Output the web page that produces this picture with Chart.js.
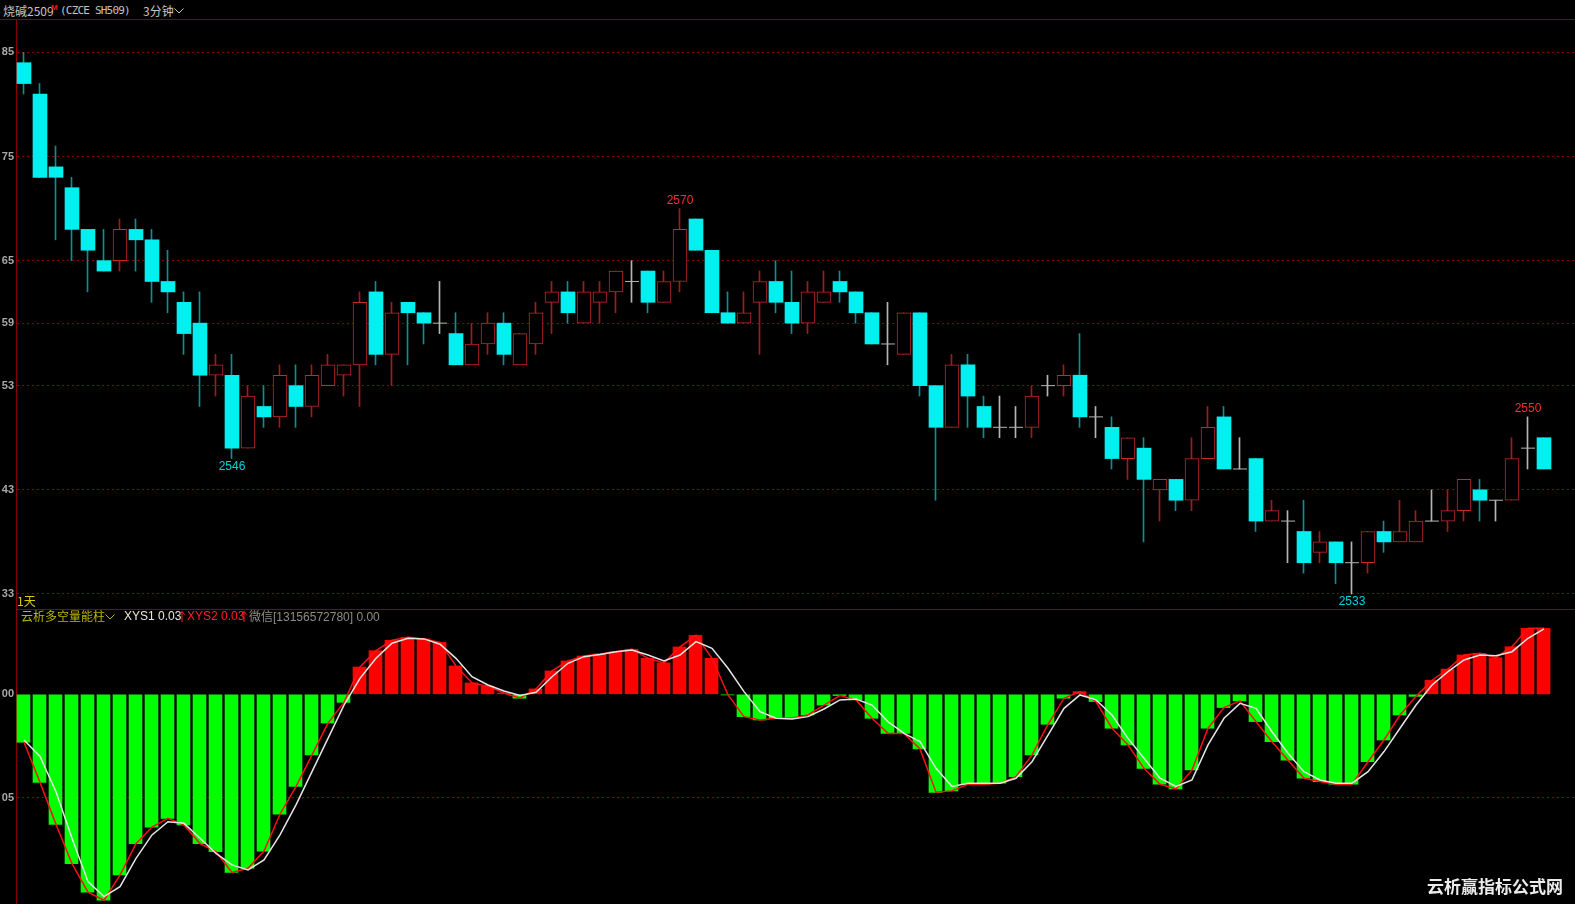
<!DOCTYPE html>
<html>
<head>
<meta charset="utf-8">
<script src="https://cdn.jsdelivr.net/npm/chart.js@4.4.1/dist/chart.umd.min.js"></script>
<style>
  html, body { margin: 0; padding: 0; background: #000; }
  body { width: 1575px; height: 904px; position: relative; overflow: hidden;
         font-family: "Liberation Sans", "Noto Sans CJK SC", sans-serif; }
  .abs { position: absolute; white-space: nowrap; line-height: 16px; font-size: 12px; }
  .cjk { font-family: "Noto Sans CJK SC", sans-serif; }
  #topline { position: absolute; left: 0; top: 19px; width: 1575px; height: 1px; background: #8c0000; }
  #sepline { position: absolute; left: 16px; top: 609px; width: 1559px; height: 1px; background: #8c0000; }
  #main { position: absolute; left: 0; top: 20px; }
  #sub { position: absolute; left: 0; top: 610px; }
  svg { display: inline-block; }
</style>
</head>
<body>
<div id="topline"></div>
<div id="sepline"></div>
<canvas id="main" width="1575" height="589"></canvas>
<canvas id="sub" width="1575" height="294"></canvas>

<div class="abs cjk" style="left:3px;top:3px;color:#c4c4c4;">烧碱2509</div>
<div class="abs" style="left:51px;top:0px;color:#e02020;font-size:8px;font-weight:bold;">M</div>
<div class="abs" style="left:60px;top:3px;color:#c4c4c4;font-family:'DejaVu Sans Mono';font-size:11px;letter-spacing:-0.8px;">(CZCE SH509)</div>
<div class="abs cjk" style="left:143px;top:3px;color:#c4c4c4;">3分钟</div>
<svg class="abs" style="left:174px;top:8px;" width="10" height="6"><polyline points="0.5,0.5 5,5 9.5,0.5" fill="none" stroke="#c4c4c4" stroke-width="1"/></svg>

<div class="abs cjk" style="left:17px;top:593px;color:#d8cc00;">1天</div>

<div class="abs cjk" style="left:21px;top:608px;color:#bcb400;">云析多空量能柱</div>
<svg class="abs" style="left:105px;top:614px;" width="10" height="6"><polyline points="0.5,0.5 5,5 9.5,0.5" fill="none" stroke="#bcb400" stroke-width="1"/></svg>
<div class="abs" style="left:124px;top:608px;color:#e8e8e8;">XYS1 0.03</div>
<svg class="abs" style="left:179px;top:610px;" width="6" height="12"><line x1="3" y1="1.5" x2="3" y2="12" stroke="#ff2020" stroke-width="1"/><polyline points="0.5,4.5 3,1.5 5.5,4.5" fill="none" stroke="#ff2020" stroke-width="1"/></svg>
<div class="abs" style="left:187px;top:608px;color:#ff2020;">XYS2 0.03</div>
<svg class="abs" style="left:241px;top:610px;" width="6" height="12"><line x1="3" y1="1.5" x2="3" y2="12" stroke="#ff2020" stroke-width="1"/><polyline points="0.5,4.5 3,1.5 5.5,4.5" fill="none" stroke="#ff2020" stroke-width="1"/></svg>
<div class="abs" style="left:249px;top:608px;color:#8c8c8c;"><span class="cjk">微信</span>[13156572780] 0.00</div>

<div class="abs cjk" style="left:1427px;top:875px;color:#ececec;font-size:17px;line-height:22px;font-weight:bold;">云析赢指标公式网</div>

<script>
// 价格刻度（轴上只显示末两位）
const priceTicks = [2585, 2575, 2565, 2559, 2553, 2543, 2533];
const subTicks = [0, -0.05];

// 3分钟K线
const opens  = [2584,2581,2574,2572,2568,2565,2565,2568,2567,2563,2561,2559,2554,2554,2547,2551,2550,2553,2551,2553,
                2554,2555,2562,2556,2561,2560,2559,2558,2555,2557,2559,2555,2557,2561,2562,2559,2561,2562,2563,2564,
                2561,2563,2569,2566,2560,2559,2561,2563,2561,2559,2561,2563,2562,2560,2557,2556,2560,2553,2549,2555,
                2551,2549,2549,2549,2553,2553,2554,2550,2549,2546,2547,2543,2544,2542,2546,2550,2545,2546,2540,2540,
                2539,2537,2538,2536,2536,2539,2538,2538,2540,2540,2541,2543,2542,2542,2547,2548];
const highs  = [2585,2582,2576,2573,2568,2568,2569,2569,2568,2566,2562,2562,2556,2556,2553,2553,2555,2555,2555,2556,
                2555,2562,2563,2561,2561,2560,2563,2560,2559,2560,2560,2558,2561,2563,2563,2563,2563,2564,2565,2564,
                2564,2570,2569,2566,2562,2562,2564,2565,2564,2563,2564,2564,2562,2560,2561,2560,2560,2553,2556,2556,
                2552,2552,2551,2553,2554,2555,2558,2551,2550,2548,2548,2544,2544,2548,2551,2551,2548,2546,2542,2541,
                2542,2539,2538,2538,2539,2540,2542,2541,2543,2543,2544,2544,2542,2548,2550,2548];
const lows   = [2581,2573,2567,2565,2562,2564,2564,2564,2561,2560,2556,2551,2552,2546,2547,2549,2549,2549,2550,2553,
                2552,2551,2555,2553,2555,2557,2558,2555,2555,2556,2555,2555,2556,2558,2559,2559,2559,2560,2561,2560,
                2561,2562,2566,2560,2559,2559,2556,2560,2558,2558,2561,2561,2559,2557,2555,2556,2552,2542,2549,2549,
                2548,2548,2548,2548,2552,2552,2549,2548,2545,2544,2538,2540,2541,2541,2546,2545,2545,2539,2540,2536,
                2535,2536,2534,2533,2535,2537,2538,2538,2540,2539,2540,2540,2540,2542,2545,2545];
const closes = [2582,2573,2573,2568,2566,2564,2568,2567,2563,2562,2558,2554,2555,2547,2552,2550,2554,2551,2554,2555,
                2555,2561,2556,2560,2560,2559,2559,2555,2557,2559,2556,2558,2560,2562,2560,2562,2562,2564,2563,2561,
                2563,2568,2566,2560,2559,2560,2563,2561,2559,2562,2562,2562,2560,2557,2557,2560,2553,2549,2555,2552,
                2549,2549,2549,2552,2553,2554,2550,2550,2546,2548,2544,2544,2542,2546,2549,2545,2545,2540,2541,2540,
                2536,2538,2536,2536,2539,2538,2539,2540,2540,2541,2544,2542,2542,2546,2547,2545];

// 标注的高低点（K线序号）
const markHigh = [41, 94];
const markLow = [13, 83];

// 云析多空量能柱
const xys2 = [-0.0232,-0.0426,-0.0629,-0.0819,-0.0957,-0.0996,-0.0874,-0.0722,-0.0642,-0.0600,
              -0.0632,-0.0722,-0.0761,-0.0861,-0.0841,-0.0758,-0.0580,-0.0446,-0.0293,-0.0139,
              -0.0039,0.0132,0.0211,0.0261,0.0276,0.0268,0.0251,0.0137,0.0055,0.0039,
              0.0006,-0.0019,0.0026,0.0113,0.0161,0.0185,0.0195,0.0206,0.0218,0.0174,
              0.0152,0.0229,0.0285,0.0174,-0.0003,-0.0108,-0.0124,-0.0116,-0.0116,-0.0100,
              -0.0052,-0.0006,-0.0027,-0.0116,-0.0189,-0.0189,-0.0264,-0.0474,-0.0467,-0.0435,
              -0.0435,-0.0430,-0.0398,-0.0293,-0.0145,-0.0019,0.0013,-0.0035,-0.0164,-0.0245,
              -0.0358,-0.0435,-0.0458,-0.0366,-0.0164,-0.0064,-0.0032,-0.0132,-0.0229,-0.0319,
              -0.0406,-0.0422,-0.0435,-0.0435,-0.0326,-0.0221,-0.0100,-0.0010,0.0068,0.0122,
              0.0190,0.0198,0.0177,0.0230,0.0319,0.0319];
const xys1 = [-0.0221,-0.0301,-0.0471,-0.0696,-0.0906,-0.0978,-0.0930,-0.0793,-0.0680,-0.0616,
              -0.0624,-0.0696,-0.0769,-0.0825,-0.0849,-0.0801,-0.0680,-0.0535,-0.0374,-0.0213,
              -0.0052,0.0077,0.0174,0.0247,0.0271,0.0268,0.0242,0.0174,0.0085,0.0045,
              0.0016,-0.0006,0.0010,0.0085,0.0150,0.0182,0.0193,0.0206,0.0214,0.0190,
              0.0161,0.0190,0.0255,0.0222,0.0126,0.0013,-0.0084,-0.0116,-0.0119,-0.0108,
              -0.0071,-0.0027,-0.0023,-0.0052,-0.0132,-0.0189,-0.0229,-0.0358,-0.0446,-0.0430,
              -0.0430,-0.0430,-0.0406,-0.0326,-0.0197,-0.0068,-0.0003,-0.0027,-0.0100,-0.0213,
              -0.0309,-0.0406,-0.0446,-0.0414,-0.0245,-0.0116,-0.0044,-0.0068,-0.0181,-0.0285,
              -0.0374,-0.0414,-0.0430,-0.0430,-0.0374,-0.0277,-0.0164,-0.0052,0.0045,0.0110,
              0.0166,0.0190,0.0187,0.0206,0.0271,0.0316];

const idx = closes.map((_, i) => i);
const X_MIN = -0.5;
const X_MAX = -0.5 + 1559 / 16;
const NUDGE = 1 / 32;

function xScales() {
    return {
        x: { type: 'linear', display: false, offset: false, bounds: 'data', grid: { offset: false }, min: X_MIN, max: X_MAX },
        xw: { type: 'linear', display: false, offset: false, bounds: 'data', grid: { offset: false }, min: X_MIN + NUDGE, max: X_MAX + NUDGE }
    };
}

function yAxis(min, max, tickVals, gridColor) {
    return {
        type: 'linear', position: 'left', min: min, max: max,
        afterBuildTicks: s => { s.ticks = tickVals.map(v => ({ value: v })); },
        afterFit: s => { s.width = 16; s.paddingTop = 0; s.paddingBottom = 0; },
        ticks: {
            color: '#a8a8a8', padding: 2,
            font: { family: 'Liberation Sans', size: 11, weight: 'bold' },
            callback: v => (Math.abs(v) < 1 ? v.toFixed(2) : String(v)).slice(-2)
        },
        grid: { color: gridColor, drawTicks: false, lineWidth: 1 },
        border: { color: '#8c0000', width: 1, dash: [2, 3] }
    };
}

const baseOptions = {
    responsive: false,
    animation: false,
    events: [],
    layout: { padding: 0, autoPadding: false },
    plugins: { legend: { display: false }, tooltip: { enabled: false } }
};

const markPlugin = {
    id: 'marks',
    afterDatasetsDraw(chart) {
        const { ctx, scales } = chart;
        ctx.save();
        ctx.font = '12px "Liberation Sans"';
        ctx.textAlign = 'center';
        ctx.textBaseline = 'middle';
        markHigh.forEach(i => {
            ctx.fillStyle = '#f03030';
            ctx.fillText(String(highs[i]), scales.x.getPixelForValue(i), scales.y.getPixelForValue(highs[i]) - 8);
        });
        markLow.forEach(i => {
            ctx.fillStyle = '#00d4dc';
            ctx.fillText(String(lows[i]), scales.x.getPixelForValue(i), scales.y.getPixelForValue(lows[i]) + 8);
        });
        ctx.restore();
    }
};

const upIdx = idx.filter(i => closes[i] > opens[i]);
const downIdx = idx.filter(i => closes[i] < opens[i]);
const dojiIdx = idx.filter(i => closes[i] === opens[i]);

new Chart(document.getElementById('main'), {
    type: 'bar',
    data: {
        datasets: [
            {
                label: '阳线',
                data: upIdx.map(i => ({ x: i, y: [opens[i], closes[i]] })),
                backgroundColor: '#000000', borderColor: '#c8282c', borderWidth: 1, borderSkipped: false,
                barThickness: 14, grouped: false, xAxisID: 'x', order: 0
            },
            {
                label: '阴线',
                data: downIdx.map(i => ({ x: i, y: [opens[i], closes[i]] })),
                backgroundColor: '#00f0f0', borderWidth: 0,
                barThickness: 14, grouped: false, xAxisID: 'x', order: 1
            },
            {
                type: 'scatter',
                label: '十字',
                data: dojiIdx.map(i => ({ x: i, y: closes[i] })),
                pointStyle: 'line', pointRadius: 7, borderColor: '#b4b4b4', pointBorderColor: '#b4b4b4',
                borderWidth: 1, pointBorderWidth: 1, xAxisID: 'x', order: 2
            },
            {
                label: '影线',
                data: idx.map(i => ({ x: i, y: [lows[i], highs[i]] })),
                backgroundColor: idx.map(i => closes[i] > opens[i] ? '#a01c1c' : (closes[i] < opens[i] ? '#0a9090' : '#b4b4b4')),
                barThickness: 1, grouped: false, xAxisID: 'xw', order: 3
            }
        ]
    },
    options: Object.assign({}, baseOptions, {
        scales: Object.assign(xScales(), {
            y: yAxis(2585 - 556.7 / 10.417, 2585 + 32.3 / 10.417, priceTicks, '#8a0000')
        })
    }),
    plugins: [markPlugin]
});

new Chart(document.getElementById('sub'), {
    type: 'bar',
    data: {
        datasets: [
            {
                type: 'line', label: 'XYS1',
                data: idx.map(i => ({ x: i, y: xys1[i] })),
                borderColor: '#e6e6e6', borderWidth: 1.5, pointRadius: 0, tension: 0, xAxisID: 'x', order: 0
            },
            {
                type: 'line', label: 'XYS2',
                data: idx.map(i => ({ x: i, y: xys2[i] })),
                borderColor: '#ff1010', borderWidth: 1.5, pointRadius: 0, tension: 0, xAxisID: 'x', order: 1
            },
            {
                label: '量能柱',
                data: idx.map(i => ({ x: i, y: xys2[i] })),
                backgroundColor: xys2.map(v => v >= 0 ? '#ff0000' : '#00ff00'),
                barThickness: 13, grouped: false, xAxisID: 'xw', order: 2
            }
        ]
    },
    options: Object.assign({}, baseOptions, {
        scales: Object.assign(xScales(), {
            y: yAxis(-(904 - 694.3) / 2068, (694.3 - 610) / 2068, subTicks,
                ctx => (ctx.tick && ctx.tick.value === 0) ? 'rgba(0,0,0,0)' : '#8a0000')
        })
    })
});
</script>
</body>
</html>
